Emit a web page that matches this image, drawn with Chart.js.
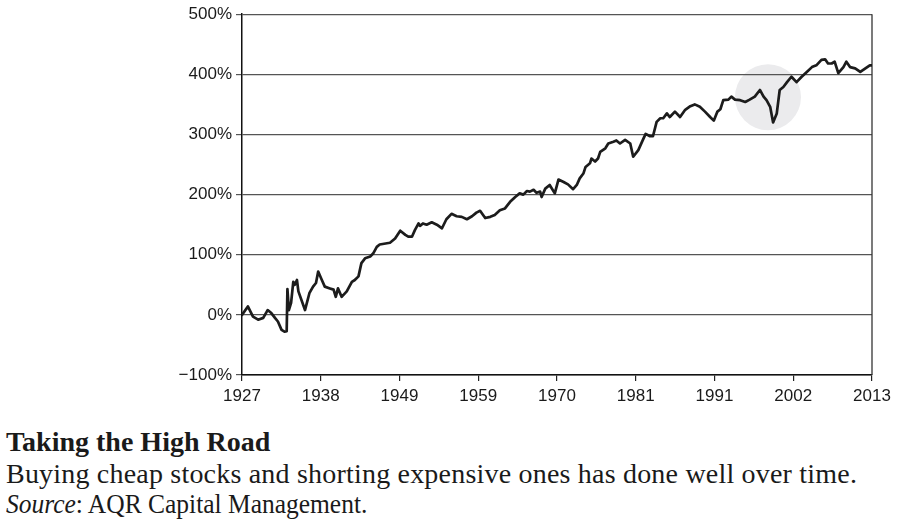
<!DOCTYPE html>
<html>
<head>
<meta charset="utf-8">
<script src="https://cdn.jsdelivr.net/npm/chart.js@4.4.1/dist/chart.umd.min.js"></script>
<style>
    body { margin: 0; background: #fff; width: 902px; height: 520px; overflow: hidden; position: relative; }
    #wrap { position: absolute; left: 0; top: 0; width: 902px; height: 420px; }
    .cap { position: absolute; left: 6px; font-family: "Liberation Serif", "Times New Roman", serif;
           font-size: 28px; line-height: 30px; color: #1a1a1a; white-space: nowrap; transform-origin: 0 50%; }
    .narrow { transform: scaleX(0.91); }
</style>
</head>
<body>
<div id="wrap"><canvas id="lineChart"></canvas></div>
<div class="cap" style="top:427px; font-weight:bold;">Taking the High Road</div>
<div class="cap" style="top:459px; letter-spacing:0.2px;">Buying cheap stocks and shorting expensive ones has done well over time.</div>
<div class="cap narrow" style="top:489px;"><i>Source</i>: AQR Capital Management.</div>
<script>
// cumulative return of the value strategy
const years = [
    1927.0, 1927.8, 1928.5, 1929.2, 1929.9, 1930.5, 1931.0, 1931.5, 1931.9, 1932.4,
    1932.8, 1933.1, 1933.2, 1933.4, 1933.7, 1934.0, 1934.2, 1934.5, 1934.7, 1935.6,
    1936.2, 1936.7, 1937.1, 1937.4, 1937.9, 1938.3, 1939.0, 1939.5, 1939.8, 1940.1,
    1940.6, 1941.3, 1942.0, 1942.4, 1942.9, 1943.3, 1943.8, 1944.5, 1944.9, 1945.4,
    1945.8, 1947.2, 1947.9, 1948.6, 1949.3, 1949.7, 1950.2, 1950.6, 1951.1, 1951.3,
    1951.7, 1952.2, 1952.9, 1953.6, 1954.3, 1954.9, 1955.6, 1956.3, 1957.0, 1957.7,
    1958.4, 1959.0, 1959.5, 1960.2, 1960.9, 1961.5, 1962.2, 1962.9, 1963.6, 1964.3,
    1964.9, 1965.4, 1965.9, 1966.3, 1966.8, 1967.2, 1967.7, 1967.9, 1968.4, 1969.0,
    1969.7, 1970.2, 1970.9, 1971.5, 1972.2, 1972.7, 1973.1, 1973.6, 1973.9, 1974.5,
    1974.7, 1975.2, 1975.6, 1975.9, 1976.6, 1977.0, 1977.7, 1978.1, 1978.6, 1979.3,
    1980.0, 1980.4, 1981.1, 1981.8, 1982.1, 1982.7, 1983.1, 1983.6, 1984.1, 1984.5,
    1985.0, 1985.4, 1986.1, 1986.8, 1987.5, 1988.2, 1988.8, 1989.5, 1990.2, 1990.9,
    1991.4, 1991.9, 1992.3, 1992.7, 1993.4, 1993.8, 1994.3, 1995.0, 1995.7, 1996.3,
    1997.0, 1997.7, 1998.2, 1998.6, 1999.1, 1999.5, 2000.0, 2000.4, 2000.9, 2001.4,
    2002.0, 2002.7, 2003.4, 2004.1, 2004.8, 2005.4, 2006.1, 2006.6, 2007.0, 2007.5,
    2007.9, 2008.4, 2009.1, 2009.5, 2010.0, 2010.7, 2011.4, 2012.1, 2012.7, 2013.0
];
const values = [
    0, 14, -3, -8, -5, 8, 3, -5, -11, -25,
    -28, -27, 43, 8, 20, 55, 50, 58, 39, 8,
    36, 47, 53, 72, 58, 47, 44, 42, 30, 44,
    30, 39, 55, 58, 64, 86, 94, 97, 102, 113,
    117, 120, 127, 140, 133, 130, 130, 141, 152, 148,
    152, 150, 154, 150, 144, 159, 168, 164, 163, 159,
    164, 170, 173, 161, 163, 166, 174, 177, 188, 196,
    202, 200, 206, 205, 208, 203, 205, 196, 210, 216,
    202, 225, 221, 217, 209, 216, 227, 235, 246, 252,
    260, 255, 260, 271, 277, 285, 288, 290, 285, 291,
    285, 263, 274, 293, 301, 297, 297, 321, 327, 327,
    335, 329, 338, 329, 341, 347, 350, 346, 338, 329,
    323, 338, 342, 357, 358, 363, 358, 357, 354, 358,
    363, 374, 363, 357, 346, 320, 335, 374, 379, 387,
    396, 387, 396, 404, 412, 415, 424, 425, 418, 418,
    421, 402, 412, 421, 412, 410, 404, 410, 415, 415
];
const tickPositions = [1927, 1937.75, 1948.5, 1959.25, 1970, 1980.75, 1991.5, 2002.25, 2013];
const tickLabels = ['1927', '1938', '1949', '1959', '1970', '1981', '1991', '2002', '2013'];
// the shaded circle marks the 1999-2000 tech bubble
const highlight = { year: 1998.8, value: 362, radius: 33 };

const axisFont = { family: '"Liberation Sans", Arial, sans-serif', size: 17 };

const framePlugin = {
    id: 'frame',
    beforeDraw(chart) {
        const ctx = chart.ctx;
        const x = chart.scales.x.getPixelForValue(highlight.year);
        const y = chart.scales.y.getPixelForValue(highlight.value);
        ctx.save();
        ctx.fillStyle = '#ebebed';
        ctx.beginPath();
        ctx.arc(x, y, highlight.radius, 0, Math.PI * 2);
        ctx.fill();
        ctx.restore();
    },
    beforeDatasetsDraw(chart) {
        const a = chart.chartArea;
        const ctx = chart.ctx;
        ctx.save();
        ctx.strokeStyle = '#333';
        ctx.lineWidth = 1.3;
        ctx.beginPath();
        ctx.moveTo(a.right, a.top);
        ctx.lineTo(a.right, a.bottom);
        ctx.stroke();
        ctx.restore();
    }
};

const ctx = document.getElementById('lineChart').getContext('2d');
new Chart(ctx, {
    type: 'line',
    data: {
        datasets: [{
            label: 'Value strategy',
            data: years.map((yr, i) => ({ x: yr, y: values[i] })),
            borderColor: '#1c1c1c',
            borderWidth: 2.7,
            pointRadius: 0,
            tension: 0,
            borderJoinStyle: 'round',
            borderCapStyle: 'round'
        }]
    },
    options: {
        responsive: true,
        maintainAspectRatio: false,
        animation: false,
        layout: { padding: { top: 14, right: 30, left: 0, bottom: 0 } },
        plugins: { legend: { display: false }, tooltip: { enabled: false } },
        scales: {
            x: {
                type: 'linear',
                min: 1927,
                max: 2013,
                afterBuildTicks: scale => { scale.ticks = tickPositions.map(v => ({ value: v })); },
                afterFit: scale => { scale.height = 45; },
                ticks: {
                    callback: (v, i) => tickLabels[i],
                    font: axisFont,
                    color: '#1a1a1a',
                    maxRotation: 0,
                    autoSkip: false,
                    padding: 5
                },
                grid: { drawOnChartArea: false, drawTicks: true, tickLength: 6, color: '#222', lineWidth: 1.2 },
                border: { color: '#111', width: 1.5 }
            },
            y: {
                min: -100,
                max: 500,
                afterFit: scale => { scale.width = 242; },
                ticks: {
                    stepSize: 100,
                    callback: v => (v < 0 ? '\u2212' : '') + Math.abs(v) + '%',
                    font: axisFont,
                    color: '#1a1a1a',
                    padding: 4
                },
                grid: { color: '#555', lineWidth: 1.2, tickLength: 6 },
                border: { color: '#111', width: 1.5 }
            }
        }
    },
    plugins: [framePlugin]
});
</script>
</body>
</html>
